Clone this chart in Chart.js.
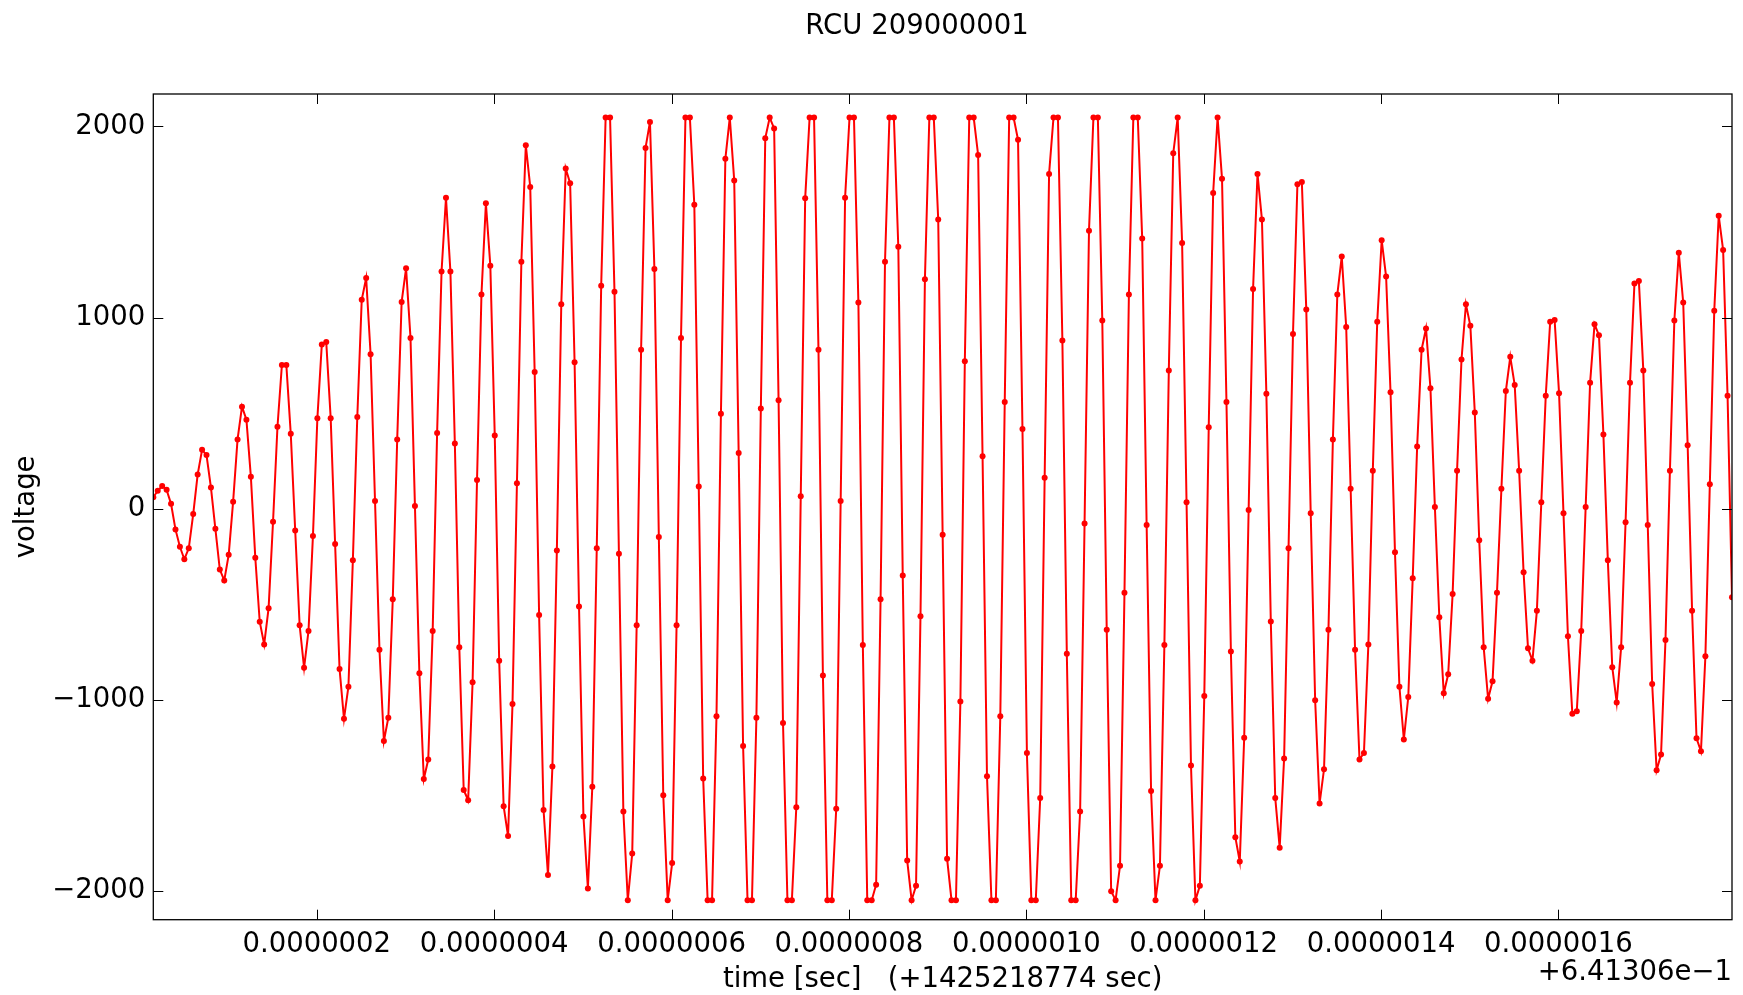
<!DOCTYPE html>
<html><head><meta charset="utf-8">
<script src="https://cdn.jsdelivr.net/npm/chart.js@4.4.0/dist/chart.umd.min.js"></script>
<style>html,body{margin:0;padding:0;background:#fff;overflow:hidden}canvas{display:block}</style>
</head><body>
<canvas id="c" width="1743" height="995"></canvas>
<script>
const titleText = 'RCU 209000001';
const xLabelText = 'time [sec]   (+1425218774 sec)';
const xOffsetText = '+6.41306e\u22121';
const yLabelText = 'voltage';

// sampling of the trace (200 MHz -> 5 ns per sample), time relative to offset
const sampleStart = 1.57e-8;
const sampleStep = 5e-9;

// voltage of each sample
const voltages = [
  60, 94, 119, 99, 26, -108, -199, -264, -207, -28,
  179, 309, 281, 111, -105, -318, -375, -241, 37, 363,
  534, 466, 168, -256, -591, -710, -520, -68, 429, 752,
  752, 392, -114, -610, -832, -639, -142, 474, 860, 872,
  474, -185, -838, -1099, -931, -270, 480, 1093, 1207, 809,
  40, -738, -1215, -1093, -474, 363, 1082, 1258, 894, 14,
  -860, -1414, -1312, -639, 397, 1241, 1627, 1241, 341, -724,
  -1471, -1525, -908, 150, 1121, 1598, 1272, 383, -795, -1556,
  -1712, -1022, 133, 1292, 1902, 1684, 715, -556, -1576, -1916,
  -1349, -219, 1070, 1780, 1703, 767, -511, -1610, -1987, -1454,
  -207, 1167, 2047, 2047, 1136, -236, -1584, -2048, -1803, -610,
  832, 1888, 2024, 1255, -148, -1499, -2048, -1854, -610, 894,
  2047, 2047, 1590, 116, -1411, -2048, -2048, -1085, 497, 1831,
  2047, 1718, 292, -1241, -2048, -2048, -1093, 525, 1939, 2047,
  1990, 568, -1121, -2048, -2048, -1562, 65, 1624, 2047, 2047,
  832, -872, -2048, -2048, -1570, 40, 1627, 2047, 2047, 1079,
  -713, -2048, -2048, -1967, -474, 1292, 2047, 2047, 1371, -349,
  -1840, -2048, -1973, -562, 1201, 2047, 2047, 1513, -136, -1831,
  -2048, -2048, -1008, 772, 2047, 2047, 1851, 275, -1400, -2048,
  -2048, -1085, 559, 2047, 2047, 1930, 417, -1278, -2048, -2048,
  -1513, 162, 1752, 2047, 2047, 880, -758, -2048, -2048, -1584,
  -77, 1454, 2047, 2047, 985, -633, -2001, -2048, -1868, -440,
  1121, 2047, 2047, 1414, -85, -1476, -2048, -1868, -713, 724,
  1860, 2047, 1391, 34, -1343, -2048, -1973, -979, 426, 1652,
  2047, 1726, 559, -747, -1718, -1845, -1198, -6, 1150, 1752,
  1513, 602, -590, -1513, -1774, -1306, -207, 914, 1698, 1709,
  1042, -23, -1002, -1542, -1363, -633, 363, 1121, 1320, 951,
  105, -738, -1312, -1278, -710, 199, 979, 1405, 1215, 610,
  -227, -931, -1207, -985, -363, 326, 832, 943, 630, 9,
  -568, -965, -866, -446, 199, 781, 1070, 957, 503, -165,
  -724, -994, -903, -440, 105, 616, 795, 647, 199, -332,
  -730, -795, -534, 34, 591, 979, 988, 605, -23, -667,
  -1073, -1059, -639, 9, 659, 965, 908, 389, -270, -829,
  -1014, -724, -71, 659, 1178, 1192, 724, -85, -917, -1368,
  -1286, -687, 199, 985, 1340, 1079, 332, -534, -1201, -1269,
  -772, 128, 1036, 1533, 1354, 591, -463
];

const xTickValues = [2e-7, 4e-7, 6e-7, 8e-7, 1e-6, 1.2e-6, 1.4e-6, 1.6e-6];
const xTickLabels = ['0.0000002', '0.0000004', '0.0000006', '0.0000008', '0.0000010', '0.0000012', '0.0000014', '0.0000016'];
const yTickValues = [-2000, -1000, 0, 1000, 2000];
const yTickLabels = ['\u22122000', '\u22121000', '0', '1000', '2000'];
const yMin = -2150;
const yMax = 2170;

const FONT = 'DejaVu Sans';
const FSIZE = 27.5;

const points = voltages.map((v, i) => ({ x: sampleStart + i * sampleStep, y: v }));

const framePlugin = {
  id: 'framePlugin',
  afterDraw(chart) {
    const { ctx, chartArea: a } = chart;
    const xs = chart.scales.x, ys = chart.scales.y;
    ctx.save();
    ctx.strokeStyle = '#000';
    ctx.lineWidth = 1.3;
    ctx.strokeRect(a.left, a.top, a.right - a.left, a.bottom - a.top);
    ctx.lineWidth = 1;
    const TL = 10;
    ctx.beginPath();
    xTickValues.forEach(v => {
      const p = Math.round(xs.getPixelForValue(v)) + 0.5;
      ctx.moveTo(p, a.bottom); ctx.lineTo(p, a.bottom - TL);
      ctx.moveTo(p, a.top); ctx.lineTo(p, a.top + TL);
    });
    yTickValues.forEach(v => {
      const p = Math.round(ys.getPixelForValue(v)) + 0.5;
      ctx.moveTo(a.left, p); ctx.lineTo(a.left + TL, p);
      ctx.moveTo(a.right, p); ctx.lineTo(a.right - TL, p);
    });
    ctx.stroke();

    ctx.fillStyle = '#000';
    ctx.font = FSIZE + 'px "' + FONT + '"';
    ctx.textBaseline = 'alphabetic';
    ctx.textAlign = 'center';
    ctx.fillText(titleText, 917, 34);
    ctx.fillText(xLabelText, (a.left + a.right) / 2, 987);
    ctx.textAlign = 'right';
    ctx.fillText(xOffsetText, a.right, 980);
    ctx.save();
    ctx.translate(34, (a.top + a.bottom) / 2);
    ctx.rotate(-Math.PI / 2);
    ctx.textAlign = 'center';
    ctx.fillText(yLabelText, 0, 0);
    ctx.restore();
    ctx.restore();
  }
};

new Chart(document.getElementById('c'), {
  type: 'line',
  data: {
    datasets: [{
      data: points,
      borderColor: '#ff0000',
      backgroundColor: '#ff0000',
      pointBackgroundColor: '#ff0000',
      pointBorderWidth: 0,
      pointRadius: 3,
      borderWidth: 2,
      tension: 0,
      fill: false
    }]
  },
  options: {
    responsive: false,
    animation: false,
    devicePixelRatio: 1,
    layout: { padding: { left: 0, top: 94, right: 11, bottom: 0 } },
    plugins: { legend: { display: false }, tooltip: { enabled: false }, title: { display: false } },
    scales: {
      x: {
        type: 'linear',
        min: sampleStart,
        max: sampleStart + (voltages.length - 1) * sampleStep,
        afterFit(s) { s.height = 75.3; },
        afterBuildTicks(s) { s.ticks = xTickValues.map(v => ({ value: v })); },
        ticks: {
          callback: (v, i) => xTickLabels[i],
          font: { family: FONT, size: FSIZE },
          color: '#000', padding: 9, maxRotation: 0, minRotation: 0, autoSkip: false
        },
        grid: { display: false, drawTicks: false },
        border: { display: false }
      },
      y: {
        type: 'linear',
        min: yMin,
        max: yMax,
        afterFit(s) { s.width = 153.3; },
        afterBuildTicks(s) { s.ticks = yTickValues.map(v => ({ value: v })); },
        ticks: {
          callback: (v, i) => yTickLabels[i],
          font: { family: FONT, size: FSIZE },
          color: '#000', padding: 8, autoSkip: false
        },
        grid: { display: false, drawTicks: false },
        border: { display: false }
      }
    }
  },
  plugins: [framePlugin]
});
</script>
</body></html>
